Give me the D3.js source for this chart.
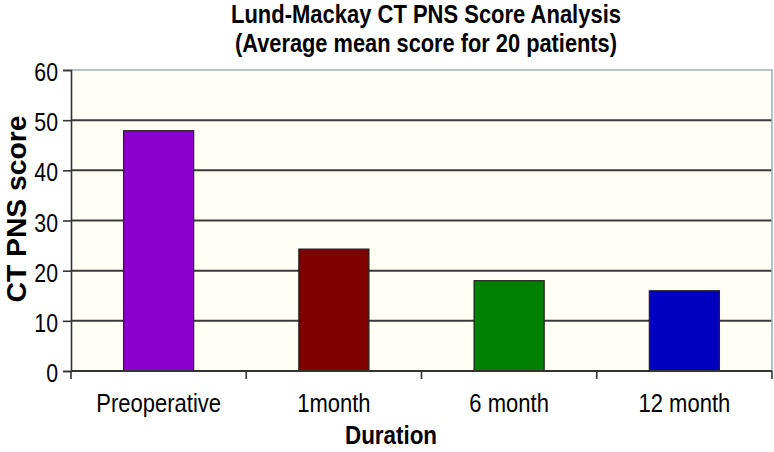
<!DOCTYPE html>
<html><head><meta charset="utf-8">
<script src="https://cdn.jsdelivr.net/npm/d3@7"></script>
<style>body{margin:0;background:#fff}svg{display:block}text{font-family:"Liberation Sans",Arial,sans-serif;fill:#000}</style>
</head><body><svg id="c" width="774" height="452"></svg>
<script>
const categories = ["Preoperative", "1month", "6 month", "12 month"];
const values = [47.9, 24.3, 18.0, 16.0];
const barColors = ["#8a00cc", "#800000", "#008000", "#0000c0"];
const yTicks = [0, 10, 20, 30, 40, 50, 60];
const titleLines = ["Lund-Mackay CT PNS Score Analysis", "(Average mean score for 20 patients)"];
const xTitle = "Duration";
const yTitle = "CT PNS score";

const svg = d3.select("#c");
const L = 71, R = 772, T = 70, B = 371;
const x = d3.scaleBand().domain(categories).range([L, R]).paddingInner(0.6).paddingOuter(0.3);
const xb = d3.scaleBand().domain(categories).range([L, R]);
const y = d3.scaleLinear().domain([0, 60]).range([B, T]);

function squeeze(sel, f) {
  sel.each(function () {
    const n = this.getComputedTextLength();
    d3.select(this).attr("textLength", n * f).attr("lengthAdjust", "spacingAndGlyphs");
  });
}

// plot background
svg.append("rect").attr("x", L).attr("y", T).attr("width", R - L).attr("height", B - T).attr("fill", "#fffff6");

// gridlines
svg.append("g").selectAll("line").data(yTicks.filter(d => d > 0 && d < 60)).join("line")
  .attr("x1", L).attr("x2", R).attr("y1", d => y(d)).attr("y2", d => y(d))
  .attr("stroke", "#3a3a3a").attr("stroke-width", 2);

// top/right border
svg.append("path").attr("d", `M${L},${T}H${R}V${B}`).attr("fill", "none")
  .attr("stroke", "#9fb2bf").attr("stroke-width", 1.6);

// bars
svg.append("g").selectAll("rect").data(values).join("rect")
  .attr("x", (d, i) => x(categories[i])).attr("width", x.bandwidth())
  .attr("y", d => y(d)).attr("height", d => y(0) - y(d))
  .attr("fill", (d, i) => barColors[i]).attr("stroke", "#222").attr("stroke-width", 1.2);

// y axis
const ya = svg.append("g").attr("transform", `translate(${L},0)`)
  .call(d3.axisLeft(y).tickValues(yTicks).tickSize(8).tickPadding(5));
ya.select(".domain").attr("stroke", "#333").attr("stroke-width", 1.6);
ya.selectAll(".tick line").attr("stroke", "#333").attr("stroke-width", 1.6);
ya.selectAll(".tick text").attr("font-size", 25).attr("fill", "#000").attr("dy", "0.42em")
  .attr("font-family", "Liberation Sans, Arial, sans-serif").call(squeeze, 0.85);

// x axis
const xa = svg.append("g").attr("transform", `translate(0,${B})`)
  .call(d3.axisBottom(xb).tickSize(0).tickPadding(0));
xa.select(".domain").remove();
xa.append("line").attr("x1", L).attr("x2", R).attr("stroke", "#333").attr("stroke-width", 1.8);
xa.selectAll(".tick text").attr("font-size", 25).attr("fill", "#000").attr("y", 40.5).attr("dy", 0)
  .attr("font-family", "Liberation Sans, Arial, sans-serif").call(squeeze, 0.88);
// category boundary ticks
const bounds = categories.map(c => xb(c)).concat([R]);
xa.append("g").selectAll("line").data(bounds).join("line")
  .attr("x1", d => d).attr("x2", d => d).attr("y1", 0).attr("y2", 8)
  .attr("stroke", "#333").attr("stroke-width", 1.6);

// titles
svg.append("g").selectAll("text").data(titleLines).join("text")
  .attr("x", 426).attr("y", (d, i) => 22.5 + i * 29.5).attr("text-anchor", "middle")
  .attr("font-weight", "bold").attr("font-size", 25).text(d => d)
  .attr("textLength", (d, i) => [390, 382][i]).attr("lengthAdjust", "spacingAndGlyphs");

svg.append("text").attr("x", 391).attr("y", 444).attr("text-anchor", "middle")
  .attr("font-weight", "bold").attr("font-size", 25).text(xTitle)
  .attr("textLength", 92).attr("lengthAdjust", "spacingAndGlyphs");

svg.append("text").attr("transform", "translate(26,209) rotate(-90)").attr("text-anchor", "middle")
  .attr("font-weight", "bold").attr("font-size", 27).text(yTitle)
  .attr("textLength", 187).attr("lengthAdjust", "spacingAndGlyphs");
</script></body></html>
